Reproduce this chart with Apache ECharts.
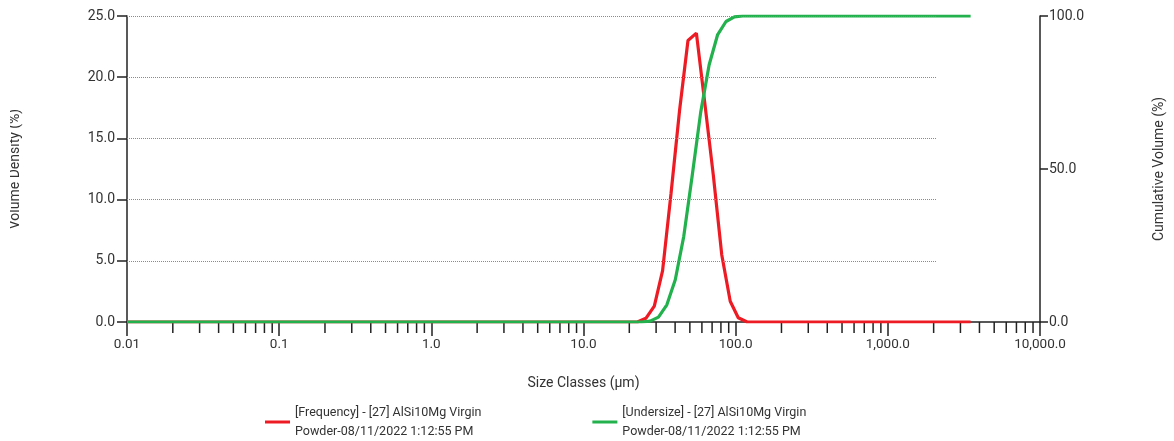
<!DOCTYPE html>
<html>
<head>
<meta charset="utf-8">
<script src="https://cdn.jsdelivr.net/npm/echarts@6/dist/echarts.min.js"></script>
<style>
  html, body { margin: 0; padding: 0; background: #fff; }
  #chart { width: 1174px; height: 441px; }
</style>
</head>
<body>
<div id="chart"></div>
<script>
// frequency (volume density) is plotted at class centres, in µm
const freqSizes = [0.01, 22.6, 25.7, 29.2, 33.1, 37.6, 42.8, 48.6, 55.2, 62.8, 71.3, 81.0, 92.1, 104, 119, 3500];
const freqValues = [0, 0, 0.3, 1.3, 4.2, 10.5, 17.3, 23.0, 23.6, 17.8, 12.0, 5.5, 1.7, 0.35, 0, 0];

// undersize (cumulative) is plotted at class upper edges, in µm
const underSizes = [0.01, 24.1, 27.4, 31.1, 35.3, 40.1, 45.6, 51.8, 58.9, 66.9, 76.0, 86.4, 98.1, 111, 3500];
const underValues = [0, 0, 0.3, 1.6, 5.6, 13.8, 28.0, 47.8, 68.5, 84.0, 93.8, 98.2, 99.7, 100, 100];

const sizeTickLabels = ['0.01', '0.1', '1.0', '10.0', '100.0', '1,000.0', '10,000.0'];
const gridValues = [5, 10, 15, 20, 25];   // dotted lines of the density axis
const gridEnd = 2100;                    // they stop short of the right axis

const decades = [0.01, 0.1, 1, 10, 100, 1000];
const minorSteps = [2, 3, 4, 5, 6, 7, 8, 9];
const minorTicks = decades.flatMap(d => minorSteps.map(m => [+(d * m).toPrecision(3), 0]));

const freqName = '[Frequency] - [27] AlSi10Mg Virgin\nPowder-08/11/2022 1:12:55 PM';
const underName = '[Undersize] - [27] AlSi10Mg Virgin\nPowder-08/11/2022 1:12:55 PM';

const FONT = 'Roboto';
const TEXT = '#333';
const AXIS = '#222';

const zip = (xs, ys) => xs.map((x, i) => [x, ys[i]]);

const chart = echarts.init(document.getElementById('chart'));
chart.setOption({
  animation: false,
  backgroundColor: '#fff',
  textStyle: { fontFamily: FONT },
  grid: { left: 126, right: 132, top: 16, bottom: 119 },
  legend: {
    data: [freqName, underName],
    left: 265,
    top: 403,
    padding: 0,
    icon: 'rect',
    itemWidth: 25,
    itemHeight: 3,
    itemGap: 111,
    itemTextGap: 3,
    textStyle: { fontFamily: FONT, fontSize: 12.5, color: TEXT, lineHeight: 19 }
  },
  xAxis: {
    type: 'log',
    logBase: 10,
    min: 0.01,
    max: 10000,
    name: 'Size Classes (µm)',
    nameLocation: 'middle',
    nameGap: 54,
    nameTextStyle: { fontFamily: FONT, fontSize: 14, color: TEXT },
    axisLine: { lineStyle: { color: AXIS, width: 1.5 } },
    axisTick: { length: 14, lineStyle: { color: AXIS, width: 1.5 } },
    axisLabel: {
      margin: 16,
      fontFamily: FONT,
      fontSize: 13.5,
      color: TEXT,
      formatter: v => sizeTickLabels[Math.round(Math.log10(v)) + 2]
    },
    splitLine: { show: false }
  },
  yAxis: [
    {
      type: 'value',
      min: 0,
      max: 25,
      interval: 5,
      name: 'Volume Density (%)',
      nameLocation: 'middle',
      nameGap: 105,
      nameTextStyle: { fontFamily: FONT, fontSize: 14, color: TEXT },
      axisLine: { show: true, lineStyle: { color: AXIS, width: 1.5 } },
      axisTick: { show: true, length: 10, lineStyle: { color: AXIS, width: 1.5 } },
      axisLabel: { margin: 12, fontFamily: FONT, fontSize: 14, color: TEXT, formatter: v => v.toFixed(1) },
      splitLine: { show: false }
    },
    {
      type: 'value',
      position: 'right',
      min: 0,
      max: 100,
      interval: 50,
      name: 'Cumulative Volume (%)',
      nameLocation: 'middle',
      nameGap: 112,
      nameTextStyle: { fontFamily: FONT, fontSize: 14, color: TEXT },
      axisLine: { show: true, lineStyle: { color: AXIS, width: 1.5 } },
      axisTick: { show: true, length: 8, lineStyle: { color: AXIS, width: 1.5 } },
      axisLabel: { margin: 9, fontFamily: FONT, fontSize: 14, color: TEXT, formatter: v => v.toFixed(1) },
      splitLine: { show: false }
    }
  ],
  graphic: [
    // the left axis title is cut off at the edge of the original picture
    { type: 'rect', left: 0, top: 60, shape: { width: 10, height: 230 }, style: { fill: '#fff' }, z: 100 }
  ],
  series: [
    {
      name: 'grid',
      type: 'line',
      data: [],
      silent: true,
      markLine: {
        silent: true,
        symbol: 'none',
        label: { show: false },
        lineStyle: { color: '#8a8a8a', type: [1, 1], width: 1 },
        data: gridValues.map(v => [{ coord: [0.01, v] }, { coord: [gridEnd, v] }])
      }
    },
    {
      name: 'minor',
      type: 'custom',
      silent: true,
      clip: false,
      data: minorTicks,
      renderItem: (params, api) => {
        const p = api.coord([api.value(0), 0]);
        return {
          type: 'line',
          shape: { x1: p[0], y1: p[1], x2: p[0], y2: p[1] + 11 },
          style: { stroke: AXIS, lineWidth: 1.5 }
        };
      }
    },
    {
      name: freqName,
      type: 'line',
      yAxisIndex: 0,
      data: zip(freqSizes, freqValues),
      showSymbol: false,
      symbol: 'none',
      lineStyle: { color: '#ed1c24', width: 3.2 },
      itemStyle: { color: '#ed1c24' }
    },
    {
      name: underName,
      type: 'line',
      yAxisIndex: 1,
      data: zip(underSizes, underValues),
      showSymbol: false,
      symbol: 'none',
      lineStyle: { color: '#22b14c', width: 3.2 },
      itemStyle: { color: '#22b14c' }
    }
  ]
});
</script>
</body>
</html>
